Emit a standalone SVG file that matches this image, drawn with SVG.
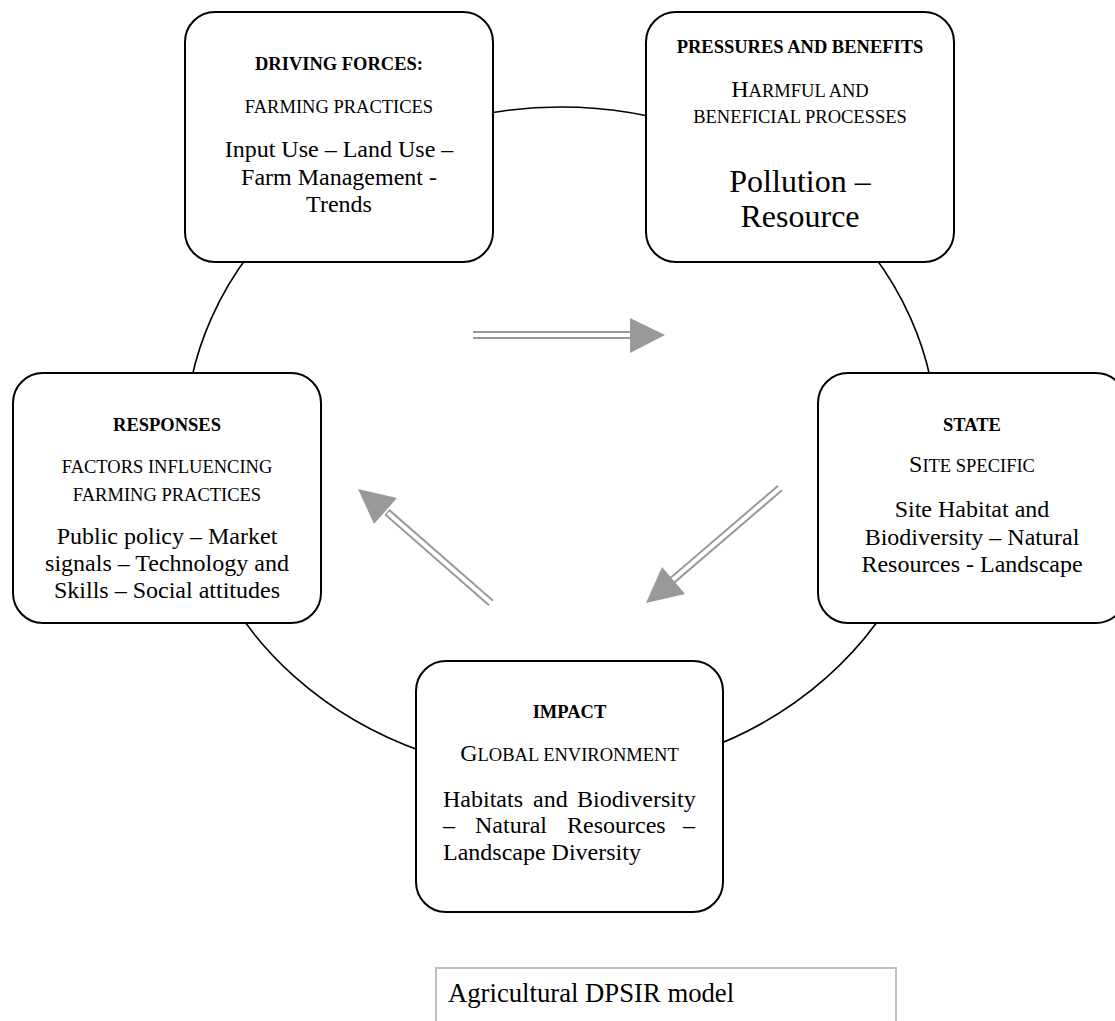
<svg xmlns="http://www.w3.org/2000/svg" width="1115" height="1021" viewBox="0 0 1115 1021">
<style>
text{font-family:"Liberation Serif","Times New Roman",serif;fill:#000}
.c{text-anchor:middle}
.b{font-weight:bold;font-size:18.5px}
.sc{font-size:18.5px}
.big{font-size:24px}
.m{font-size:24px}
.p{font-size:32px}
.box{fill:#fff;stroke:#000;stroke-width:2}
.cyc{fill:none;stroke:#000;stroke-width:1.6}
.shaft{stroke:#999;stroke-width:8;fill:none}
.gap{stroke:#fff;stroke-width:4;fill:none}
.head{fill:#999}
</style>
<rect width="1115" height="1021" fill="#fff"/>
<g id="cycle">
<ellipse class="cyc" cx="561" cy="441" rx="376" ry="334"/>
</g>
<g id="connectors">
<line class="shaft" x1="473" y1="335" x2="632" y2="335"/>
<line class="gap" x1="471" y1="335" x2="631" y2="335"/>
<polygon class="head" points="630,318 665,335 630,353"/>
<line class="shaft" x1="491" y1="603" x2="387" y2="512"/>
<line class="gap" x1="492.5" y1="604.3" x2="388" y2="513"/>
<polygon class="head" points="358,489 397,498 374,524"/>
<line class="shaft" x1="780" y1="488" x2="671" y2="581.5"/>
<line class="gap" x1="781.5" y1="486.7" x2="672" y2="580.5"/>
<polygon class="head" points="646,603 662,567 685,594"/>
</g>
<g id="driving-forces">
<rect class="box" x="185" y="12" width="308" height="250" rx="30"/>
<text class="c b" x="339" y="70">DRIVING FORCES:</text>
<text class="c sc" x="339" y="113">FARMING PRACTICES</text>
<text class="c m" x="339" y="157">Input Use – Land Use –</text>
<text class="c m" x="339" y="184.5">Farm Management -</text>
<text class="c m" x="339" y="212">Trends</text>
</g>
<g id="pressures">
<rect class="box" x="646" y="12" width="308" height="250" rx="30"/>
<text class="c b" x="800" y="53">PRESSURES AND BENEFITS</text>
<text class="c sc" x="800" y="97"><tspan class="big">H</tspan>ARMFUL AND</text>
<text class="c sc" x="800" y="123">BENEFICIAL PROCESSES</text>
<text class="c p" x="800" y="192">Pollution –</text>
<text class="c p" x="800" y="227">Resource</text>
</g>
<g id="responses">
<rect class="box" x="13" y="373" width="308" height="250" rx="30"/>
<text class="c b" x="167" y="431">RESPONSES</text>
<text class="c sc" x="167" y="473">FACTORS INFLUENCING</text>
<text class="c sc" x="167" y="501">FARMING PRACTICES</text>
<text class="c m" x="167" y="544">Public policy – Market</text>
<text class="c m" x="167" y="571">signals – Technology and</text>
<text class="c m" x="167" y="598">Skills – Social attitudes</text>
</g>
<g id="state">
<rect class="box" x="818" y="373" width="308" height="250" rx="30"/>
<text class="c b" x="972" y="431">STATE</text>
<text class="c sc" x="972" y="472"><tspan class="big">S</tspan>ITE SPECIFIC</text>
<text class="c m" x="972" y="517">Site Habitat and</text>
<text class="c m" x="972" y="545">Biodiversity – Natural</text>
<text class="c m" x="972" y="572">Resources - Landscape</text>
</g>
<g id="impact">
<rect class="box" x="416" y="661" width="307" height="251" rx="30"/>
<text class="c b" x="569.5" y="718">IMPACT</text>
<text class="c sc" x="569.5" y="761"><tspan class="big">G</tspan>LOBAL ENVIRONMENT</text>
<text class="m" y="807"><tspan x="443">Habitats</tspan><tspan x="533">and</tspan><tspan x="577">Biodiversity</tspan></text>
<text class="m" y="833"><tspan x="443">–</tspan><tspan x="475">Natural</tspan><tspan x="567">Resources</tspan><tspan x="683">–</tspan></text>
<text class="m" x="443" y="860">Landscape Diversity</text>
</g>
<g id="caption">
<rect x="436" y="968" width="460" height="80" fill="#fff" stroke="#bfbfbf" stroke-width="2"/>
<text x="448" y="1002" font-size="26.7">Agricultural DPSIR model</text>
</g>
</svg>
